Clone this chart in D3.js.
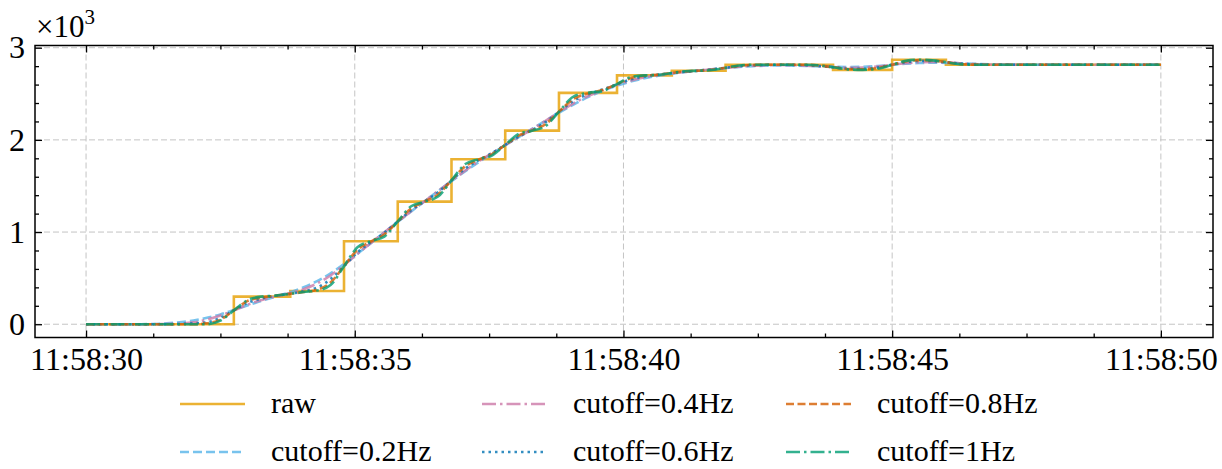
<!DOCTYPE html>
<html><head><meta charset="utf-8">
<script src="https://cdn.jsdelivr.net/npm/d3@7"></script>
<style>
body{margin:0;background:#fff}
svg{display:block}
</style>
</head><body>
<svg id="chart" width="1222" height="469"></svg>
<script>
// seconds after 11:58:30
const rawTimes = [0, 2.75, 3.8, 4.8, 5.8, 6.8, 7.8, 8.8, 9.88, 10.9, 11.9, 13.9, 15.0, 16.0, 20];
const rawValues = [0, 0.30, 0.36, 0.90, 1.33, 1.79, 2.10, 2.51, 2.70, 2.75, 2.815, 2.76, 2.87, 2.815, 2.815];

const filtTimes = [0, 1, 1.5, 2, 2.25, 2.5, 2.75, 3, 3.27, 3.53, 3.8, 4.05, 4.3, 4.55, 4.8, 5.05, 5.3, 5.55,
  5.8, 6.05, 6.3, 6.55, 6.8, 7.05, 7.3, 7.55, 7.8, 8.05, 8.3, 8.55, 8.8, 9.07, 9.34, 9.61, 9.88, 10.13, 10.39, 10.65,
  10.9, 11.15, 11.4, 11.65, 11.9, 12.15, 12.4, 12.9, 13.4, 13.65, 13.9, 14.17, 14.45, 14.72, 15, 15.25, 15.5, 15.75,
  16, 16.25, 16.5, 17, 18, 19, 20];

const cut02 = [0, 0, 0.01, 0.04, 0.07, 0.106, 0.154, 0.203, 0.255, 0.30, 0.348, 0.401, 0.468, 0.552,
  0.654, 0.765, 0.88, 0.995, 1.11, 1.224, 1.334, 1.444, 1.553, 1.658, 1.757, 1.851, 1.942, 2.031, 2.119, 2.207,
  2.295, 2.383, 2.464, 2.532, 2.588, 2.632, 2.668, 2.696, 2.718, 2.736, 2.751, 2.766,
  2.779, 2.791, 2.80, 2.808, 2.803, 2.798, 2.793, 2.79, 2.793, 2.801, 2.814, 2.826, 2.834, 2.837,
  2.836, 2.831, 2.826, 2.818, 2.815, 2.815, 2.815];
const cut04 = [0, 0, 0.002, 0.02, 0.05, 0.095, 0.15, 0.21, 0.263, 0.30, 0.338, 0.38, 0.443, 0.529,
  0.64, 0.762, 0.882, 0.998, 1.112, 1.226, 1.335, 1.445, 1.556, 1.665, 1.766, 1.856, 1.944, 2.03, 2.117, 2.207,
  2.301, 2.397, 2.475, 2.54, 2.598, 2.642, 2.677, 2.704, 2.722, 2.738, 2.753, 2.766,
  2.782, 2.795, 2.804, 2.812, 2.806, 2.798, 2.79, 2.783, 2.785, 2.796, 2.815, 2.831, 2.842, 2.845,
  2.84, 2.832, 2.824, 2.817, 2.815, 2.815, 2.815];
const cut06 = [0, 0, 0, 0.01, 0.02, 0.07, 0.15, 0.23, 0.28, 0.31, 0.33, 0.357, 0.398, 0.489,
  0.63, 0.779, 0.891, 0.992, 1.115, 1.236, 1.333, 1.431, 1.56, 1.686, 1.778, 1.855, 1.945, 2.034, 2.108, 2.192,
  2.305, 2.423, 2.494, 2.546, 2.605, 2.655, 2.689, 2.708, 2.725, 2.739, 2.751, 2.765,
  2.782, 2.80, 2.81, 2.815, 2.811, 2.802, 2.788, 2.772, 2.771, 2.784, 2.815, 2.843, 2.857, 2.855,
  2.843, 2.828, 2.819, 2.815, 2.815, 2.815, 2.815];
const cut08 = [0, 0, 0, 0, 0.01, 0.05, 0.15, 0.25, 0.29, 0.31, 0.33, 0.35, 0.374, 0.452,
  0.63, 0.808, 0.897, 0.973, 1.115, 1.257, 1.331, 1.408, 1.56, 1.712, 1.785, 1.843, 1.945, 2.047, 2.103, 2.17,
  2.305, 2.444, 2.504, 2.54, 2.605, 2.668, 2.696, 2.708, 2.725, 2.742, 2.75, 2.761,
  2.782, 2.804, 2.813, 2.815, 2.815, 2.806, 2.788, 2.769, 2.765, 2.779, 2.815, 2.851, 2.865, 2.861,
  2.843, 2.824, 2.817, 2.815, 2.815, 2.815, 2.815];
const cut10 = [0, 0, 0, 0, 0.00, 0.04, 0.15, 0.26, 0.30, 0.31, 0.33, 0.35, 0.365, 0.425,
  0.63, 0.835, 0.90, 0.95, 1.115, 1.28, 1.33, 1.385, 1.56, 1.735, 1.79, 1.83, 1.945, 2.065, 2.10, 2.15,
  2.305, 2.47, 2.51, 2.53, 2.605, 2.68, 2.70, 2.705, 2.725, 2.745, 2.75, 2.758,
  2.782, 2.807, 2.815, 2.815, 2.815, 2.808, 2.788, 2.765, 2.76, 2.771, 2.815, 2.857, 2.869, 2.863,
  2.843, 2.822, 2.815, 2.815, 2.815, 2.815, 2.815];

const seriesNames = ["raw", "cutoff=0.2Hz", "cutoff=0.4Hz", "cutoff=0.6Hz", "cutoff=0.8Hz", "cutoff=1Hz"];
const xTickValues = [0, 5, 10, 15, 20];
const xTickLabels = ["11:58:30", "11:58:35", "11:58:40", "11:58:45", "11:58:50"];
const yTickValues = [0, 1, 2, 3];
const yTickLabels = ["0", "1", "2", "3"];
const xMinorValues = [1.25, 2.5, 3.75, 6.25, 7.5, 8.75, 11.25, 12.5, 13.75, 16.25, 17.5, 18.75];
const yMinorValues = [0.2, 0.4, 0.6, 0.8, 1.2, 1.4, 1.6, 1.8, 2.2, 2.4, 2.6, 2.8];
const offsetLabel = "\u00d710";
const offsetExp = "3";

const styles = [
  {color: "#E69F00", dash: null},
  {color: "#56B4E9", dash: "9,4"},
  {color: "#CC79A7", dash: "14,4,2.5,4"},
  {color: "#0072B2", dash: "2.5,4"},
  {color: "#D55E00", dash: "8,3.5"},
  {color: "#009E73", dash: "14,4,2.5,4"}
];

const svg = d3.select("#chart");

// pick an installed serif family (width test against monospace fallback)
const candidates = ["Liberation Serif", "Times New Roman", "Tinos", "Nimbus Roman", "Noto Serif", "DejaVu Serif", "FreeSerif"];
const probe = svg.append("text").attr("x", -1000).attr("y", -1000).attr("font-size", 40).text("cutoff=0.4Hz 11:58:30 raw");
function widthFor(f) { probe.style("font-family", f); return probe.node().getComputedTextLength(); }
const baseMono = widthFor("monospace");
let family = "serif";
for (const c of candidates) {
  const w1 = widthFor(`"${c}", monospace`), w2 = widthFor(`"${c}", sans-serif`);
  if (Math.abs(w1 - baseMono) > 0.5 && Math.abs(w1 - w2) < 0.5) { family = `"${c}", serif`; break; }
}
probe.style("font-family", family).attr("font-size", 32).text(xTickLabels[0]);
const fs = 32 * Math.min(1.05, 113 / probe.node().getComputedTextLength());
probe.remove();

const L = 35, R = 1213, T = 45.5, B = 337.5;
svg.insert("rect", ":first-child").attr("width", 1222).attr("height", 469).attr("fill", "#fff");

const x = d3.scaleLinear().domain([-0.95, 20.97]).range([L, R]);
const y = d3.scaleLinear().domain([-0.144, 3.024]).range([B, T]);

// grid
const grid = svg.append("g").attr("stroke", "#c4c4c4").attr("stroke-width", 1).attr("stroke-dasharray", "6,3");
xTickValues.forEach(v => grid.append("line").attr("x1", x(v)).attr("x2", x(v)).attr("y1", T).attr("y2", B));
yTickValues.forEach(v => grid.append("line").attr("x1", L).attr("x2", R).attr("y1", y(v)).attr("y2", y(v)));

// data lines
const lineRaw = d3.line().x(d => x(d[0])).y(d => y(d[1])).curve(d3.curveStepAfter);
const lineF = d3.line().x(d => x(d[0])).y(d => y(d[1])).curve(d3.curveMonotoneX);
const allSeries = [
  d3.zip(rawTimes, rawValues),
  d3.zip(filtTimes, cut02),
  d3.zip(filtTimes, cut04),
  d3.zip(filtTimes, cut06),
  d3.zip(filtTimes, cut08),
  d3.zip(filtTimes, cut10)
];
const plot = svg.append("g");
allSeries.forEach((s, i) => {
  plot.append("path").datum(s)
    .attr("d", i === 0 ? lineRaw(s) : lineF(s))
    .attr("fill", "none")
    .attr("stroke", styles[i].color)
    .attr("stroke-opacity", 0.8)
    .attr("stroke-width", 2.6)
    .attr("stroke-dasharray", styles[i].dash);
});

// axes
function styleAxis(g) {
  g.attr("font-family", null);
  g.select(".domain").remove();
  g.selectAll(".tick line").attr("stroke", "#000").attr("stroke-width", 1.3);
  g.selectAll("text").attr("font-size", fs).style("font-family", family).attr("fill", "#000");
}
svg.append("g").attr("transform", `translate(0,${B})`)
  .call(d3.axisBottom(x).tickValues(xTickValues).tickFormat((d, i) => xTickLabels[i]).tickSizeInner(-7).tickSizeOuter(0).tickPadding(10))
  .call(styleAxis);
svg.append("g").attr("transform", `translate(0,${B})`)
  .call(d3.axisBottom(x).tickValues(xMinorValues).tickFormat("").tickSizeInner(-4).tickSizeOuter(0))
  .call(styleAxis);
svg.append("g").attr("transform", `translate(0,${T})`)
  .call(d3.axisTop(x).tickValues(xTickValues).tickFormat("").tickSizeInner(-7).tickSizeOuter(0))
  .call(styleAxis);
svg.append("g").attr("transform", `translate(0,${T})`)
  .call(d3.axisTop(x).tickValues(xMinorValues).tickFormat("").tickSizeInner(-4).tickSizeOuter(0))
  .call(styleAxis);
svg.append("g").attr("transform", `translate(${L},0)`)
  .call(d3.axisLeft(y).tickValues(yTickValues).tickFormat((d, i) => yTickLabels[i]).tickSizeInner(-7).tickSizeOuter(0).tickPadding(10))
  .call(styleAxis);
svg.append("g").attr("transform", `translate(${L},0)`)
  .call(d3.axisLeft(y).tickValues(yMinorValues).tickFormat("").tickSizeInner(-4).tickSizeOuter(0))
  .call(styleAxis);
svg.append("g").attr("transform", `translate(${R},0)`)
  .call(d3.axisRight(y).tickValues(yTickValues).tickFormat("").tickSizeInner(-7).tickSizeOuter(0))
  .call(styleAxis);
svg.append("g").attr("transform", `translate(${R},0)`)
  .call(d3.axisRight(y).tickValues(yMinorValues).tickFormat("").tickSizeInner(-4).tickSizeOuter(0))
  .call(styleAxis);

// frame
svg.append("rect").attr("x", L).attr("y", T).attr("width", R - L).attr("height", B - T)
  .attr("fill", "none").attr("stroke", "#000").attr("stroke-width", 1.5);

// offset label
const off = svg.append("text").attr("x", 36).attr("y", 37).attr("font-size", 31).style("font-family", family).attr("fill", "#000");
off.append("tspan").text(offsetLabel);
off.append("tspan").attr("font-size", 21).attr("dy", -13).text(offsetExp);

// legend (3 columns, column-major)
const colX = [180, 482, 786];
const rowY = [404, 452];
seriesNames.forEach((name, i) => {
  const c = Math.floor(i / 2), r = i % 2;
  const g = svg.append("g").attr("transform", `translate(${colX[c]},${rowY[r]})`);
  g.append("line").attr("x1", 0).attr("x2", 65).attr("y1", 0).attr("y2", 0)
    .attr("stroke", styles[i].color).attr("stroke-opacity", 0.8).attr("stroke-width", 2.6)
    .attr("stroke-dasharray", styles[i].dash);
  g.append("text").attr("x", 91).attr("y", 9).attr("font-size", Math.min(fs, 30)).style("font-family", family).attr("fill", "#000").text(name);
});
</script>
</body></html>
